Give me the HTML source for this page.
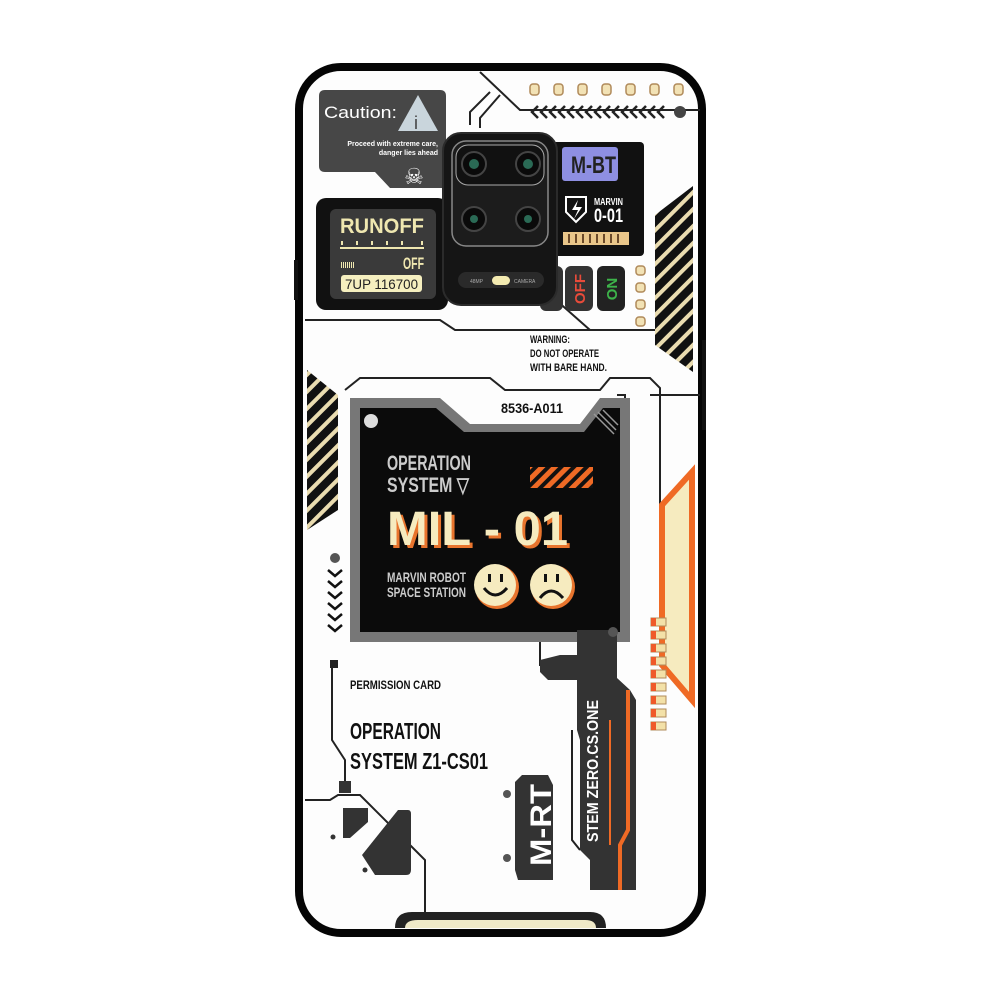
<!DOCTYPE html>
<html><head><meta charset="utf-8"><style>
html,body{margin:0;padding:0;background:#fff;width:1000px;height:1000px;overflow:hidden}
svg{display:block}
.n{font-family:"Liberation Sans",sans-serif;font-weight:bold}
.s{font-family:"Liberation Sans",sans-serif}
</style></head><body>
<svg width="1000" height="1000" viewBox="0 0 1000 1000" xmlns="http://www.w3.org/2000/svg">
<rect width="1000" height="1000" fill="#fff"/>
<rect x="299" y="67" width="403" height="866" rx="42" fill="#fdfdfd" stroke="#050505" stroke-width="8"/>
<rect x="294" y="260" width="4" height="40" fill="#111"/>
<rect x="702" y="340" width="4" height="90" fill="#111"/>

<g fill="none" stroke="#222" stroke-width="2">
<path d="M480 72 L520 110 L700 110"/>
<path d="M490 92 L470 112 L470 125"/>
<path d="M500 95 L480 118 L480 128"/>
<path d="M305 320 L440 320 L455 330 L690 330"/>
<path d="M556 300 L590 330"/>
<path d="M345 390 L360 378 L490 378 L505 390 L600 390 L610 378 L650 378 L660 388 L660 545"/>
<path d="M617 395 L625 395 L625 470 L615 480"/>
<path d="M540 640 L540 665 L575 665"/>
<path d="M332 662 L332 740 L345 760 L345 785"/>
<path d="M305 800 L330 800 L338 795 L360 795 L395 830 L425 860 L425 912"/>
<path d="M572 730 L572 840 L580 850"/>
<path d="M650 395 L700 395"/>
</g>

<g fill="#f2e2b5" stroke="#b08a5a" stroke-width="1.5">
<rect x="530" y="84" width="9" height="11" rx="3"/><rect x="554" y="84" width="9" height="11" rx="3"/>
<rect x="578" y="84" width="9" height="11" rx="3"/><rect x="602" y="84" width="9" height="11" rx="3"/>
<rect x="626" y="84" width="9" height="11" rx="3"/><rect x="650" y="84" width="9" height="11" rx="3"/>
<rect x="674" y="84" width="9" height="11" rx="3"/>
<rect x="636" y="266" width="9" height="9" rx="3"/><rect x="636" y="283" width="9" height="9" rx="3"/>
<rect x="636" y="300" width="9" height="9" rx="3"/><rect x="636" y="317" width="9" height="9" rx="3"/>
</g>
<g fill="none" stroke="#222" stroke-width="2.5">
<path d="M538 106 L532 112 L538 118"/><path d="M547 106 L541 112 L547 118"/><path d="M556 106 L550 112 L556 118"/>
<path d="M565 106 L559 112 L565 118"/><path d="M574 106 L568 112 L574 118"/><path d="M583 106 L577 112 L583 118"/>
<path d="M592 106 L586 112 L592 118"/><path d="M601 106 L595 112 L601 118"/><path d="M610 106 L604 112 L610 118"/>
<path d="M619 106 L613 112 L619 118"/><path d="M628 106 L622 112 L628 118"/><path d="M637 106 L631 112 L637 118"/>
<path d="M646 106 L640 112 L646 118"/><path d="M655 106 L649 112 L655 118"/><path d="M664 106 L658 112 L664 118"/>
</g>
<circle cx="680" cy="112" r="6" fill="#444"/>

<path d="M325 90 L440 90 Q446 90 446 96 L446 188 L390 188 L375 172 L325 172 Q319 172 319 166 L319 96 Q319 90 325 90Z" fill="#474747"/>
<text x="324" y="118" class="s" font-size="17" fill="#fff" textLength="73" lengthAdjust="spacingAndGlyphs">Caution:</text>
<path d="M418 95 L438 131 L398 131Z" fill="#c9d5dc"/>
<text x="414" y="129" class="s" font-size="18" fill="#444">i</text>
<text x="438" y="146" class="s" font-size="7" fill="#fff" text-anchor="end" font-weight="bold">Proceed with extreme care,</text>
<text x="438" y="155" class="s" font-size="7" fill="#fff" text-anchor="end" font-weight="bold">danger lies ahead</text>
<text x="414" y="184" class="s" font-size="22" fill="#fff" text-anchor="middle">☠</text>

<rect x="316" y="198" width="132" height="112" rx="10" fill="#111"/>
<rect x="330" y="209" width="106" height="90" rx="6" fill="#3a3a3a"/>
<text x="340" y="233" class="s" font-size="21" font-weight="bold" fill="#efe7b0" textLength="84" lengthAdjust="spacingAndGlyphs">RUNOFF</text>
<rect x="340" y="247" width="84" height="2" fill="#efe7b0"/>
<g fill="#efe7b0"><rect x="341" y="241" width="2" height="4"/><rect x="356" y="241" width="2" height="4"/><rect x="371" y="241" width="2" height="4"/><rect x="386" y="241" width="2" height="4"/><rect x="401" y="241" width="2" height="4"/><rect x="421" y="241" width="2" height="4"/></g>
<g fill="#efe7b0"><rect x="341" y="262" width="1" height="6"/><rect x="343" y="262" width="1" height="6"/><rect x="345" y="262" width="1" height="6"/><rect x="347" y="262" width="1" height="6"/><rect x="349" y="262" width="1" height="6"/><rect x="351" y="262" width="1" height="6"/><rect x="353" y="262" width="1" height="6"/></g>
<text x="403" y="269" class="n" font-size="17" fill="#efe7b0" textLength="21" lengthAdjust="spacingAndGlyphs">OFF</text>
<rect x="341" y="275" width="81" height="17" rx="3" fill="#f5efbf"/>
<text x="345" y="289" class="s" font-size="14" fill="#222" textLength="73" lengthAdjust="spacingAndGlyphs">7UP 116700</text>

<rect x="552" y="142" width="92" height="114" rx="4" fill="#111"/>
<rect x="562" y="147" width="56" height="34" rx="3" fill="#8e8fe2"/>
<text x="571" y="173" class="n" font-size="24" fill="#222" textLength="45" lengthAdjust="spacingAndGlyphs">M-BT</text>
<path d="M566 197 L586 197 L586 212 L576 222 L566 212Z" fill="none" stroke="#fff" stroke-width="2"/>
<path d="M578 200 L572 210 L578 210 L574 219 L582 207 L576 207Z" fill="#fff"/>
<text x="594" y="205" class="n" font-size="10" fill="#fff" textLength="29" lengthAdjust="spacingAndGlyphs">MARVIN</text>
<text x="594" y="222" class="n" font-size="19" fill="#fff" textLength="29" lengthAdjust="spacingAndGlyphs">0-01</text>
<rect x="563" y="232" width="66" height="13" fill="#e9c68a"/>
<g fill="#6b4a2a"><rect x="568" y="234" width="2" height="9"/><rect x="575" y="234" width="2" height="9"/><rect x="582" y="234" width="2" height="9"/><rect x="589" y="234" width="2" height="9"/><rect x="596" y="234" width="2" height="9"/><rect x="603" y="234" width="2" height="9"/><rect x="610" y="234" width="2" height="9"/><rect x="617" y="234" width="2" height="9"/></g>

<rect x="540" y="266" width="23" height="45" rx="6" fill="#333"/>
<rect x="565" y="266" width="28" height="45" rx="6" fill="#333"/>
<rect x="597" y="266" width="28" height="45" rx="6" fill="#222"/>
<text transform="translate(585,289) rotate(-90)" class="n" font-size="15" fill="#e84b3a" text-anchor="middle">OFF</text>
<text transform="translate(617,289) rotate(-90)" class="n" font-size="15" fill="#3db34a" text-anchor="middle">ON</text>

<rect x="443" y="133" width="114" height="172" rx="18" fill="#151515" stroke="#2b2b2b" stroke-width="2"/>
<rect x="452" y="141" width="96" height="105" rx="14" fill="#1c1c1c" stroke="#888" stroke-width="1.5"/>
<rect x="456" y="145" width="88" height="40" rx="12" fill="#111" stroke="#aaa" stroke-width="1"/>
<g fill="#0a0a0a" stroke="#444" stroke-width="2">
<circle cx="474" cy="164" r="12"/><circle cx="528" cy="164" r="12"/><circle cx="474" cy="219" r="12"/><circle cx="528" cy="219" r="12"/></g>
<g fill="#2a6a55"><circle cx="474" cy="164" r="5"/><circle cx="528" cy="164" r="5"/><circle cx="474" cy="219" r="4"/><circle cx="528" cy="219" r="4"/></g>
<rect x="458" y="272" width="86" height="16" rx="8" fill="#2a2a2a"/>
<rect x="492" y="276" width="18" height="9" rx="4.5" fill="#f3eab0"/>
<text x="470" y="283" class="s" font-size="5" fill="#aaa">48MP</text>
<text x="514" y="283" class="s" font-size="5" fill="#aaa">CAMERA</text>

<text x="530" y="343" class="n" font-size="11" fill="#111" textLength="40" lengthAdjust="spacingAndGlyphs">WARNING:</text>
<text x="530" y="357" class="n" font-size="11" fill="#111" textLength="69" lengthAdjust="spacingAndGlyphs">DO NOT OPERATE</text>
<text x="530" y="371" class="n" font-size="11" fill="#111" textLength="77" lengthAdjust="spacingAndGlyphs">WITH BARE HAND.</text>

<defs>
<pattern id="st" width="12" height="12" patternUnits="userSpaceOnUse" patternTransform="rotate(-45)">
<rect width="12" height="12" fill="#111"/><rect width="12" height="4" fill="#eadcb0"/></pattern>
<pattern id="or" width="9" height="9" patternUnits="userSpaceOnUse" patternTransform="rotate(45)">
<rect width="9" height="9" fill="#111"/><rect width="5" height="9" fill="#ef6a25"/></pattern>
</defs>
<path d="M693 186 L693 372 L655 345 L655 215Z" fill="url(#st)"/>
<path d="M307 370 L338 395 L338 510 L307 530Z" fill="url(#st)"/>

<path d="M350 398 L440 398 L470 424 L580 424 L600 398 L630 398 L630 642 L350 642Z" fill="#777"/>
<path d="M360 408 L436 408 L464 432 L584 432 L603 408 L620 408 L620 632 L360 632Z" fill="#0b0b0b"/>
<text x="501" y="413" class="n" font-size="14" fill="#111" textLength="62" lengthAdjust="spacingAndGlyphs">8536-A011</text>
<circle cx="371" cy="421" r="7" fill="#ddd"/>
<path d="M598 412 L616 430 M603 410 L618 425 M594 414 L614 434" stroke="#999" stroke-width="1.5"/>
<text x="387" y="470" class="n" font-size="21" fill="#ccc" textLength="84" lengthAdjust="spacingAndGlyphs">OPERATION</text>
<text x="387" y="492" class="n" font-size="21" fill="#ccc" textLength="82" lengthAdjust="spacingAndGlyphs">SYSTEM ▽</text>
<rect x="530" y="467" width="63" height="21" fill="url(#or)"/>
<text x="390" y="548" class="s" font-size="48" font-weight="900" fill="#e8742d" textLength="181" lengthAdjust="spacingAndGlyphs">MIL - 01</text>
<text x="387" y="545" class="s" font-size="48" font-weight="900" fill="#f6ebbf" textLength="181" lengthAdjust="spacingAndGlyphs">MIL - 01</text>
<text x="387" y="582" class="n" font-size="14" fill="#ccc" textLength="79" lengthAdjust="spacingAndGlyphs">MARVIN ROBOT</text>
<text x="387" y="597" class="n" font-size="14" fill="#ccc" textLength="79" lengthAdjust="spacingAndGlyphs">SPACE STATION</text>
<circle cx="497" cy="587" r="22" fill="#e8742d"/><circle cx="495" cy="585" r="21" fill="#f6ebbf"/>
<circle cx="553" cy="587" r="22" fill="#e8742d"/><circle cx="551" cy="585" r="21" fill="#f6ebbf"/>
<g fill="#111"><rect x="488" y="574" width="3" height="8"/><rect x="500" y="574" width="3" height="8"/><rect x="544" y="574" width="3" height="8"/><rect x="556" y="574" width="3" height="8"/></g>
<path d="M484 588 Q495 602 507 588" stroke="#111" stroke-width="3" fill="none"/>
<path d="M540 598 Q551 584 563 598" stroke="#111" stroke-width="3" fill="none"/>

<circle cx="335" cy="558" r="5" fill="#555"/>
<g fill="none" stroke="#111" stroke-width="2.5">
<path d="M328 570 L335 576 L342 570"/><path d="M328 581 L335 587 L342 581"/><path d="M328 592 L335 598 L342 592"/>
<path d="M328 603 L335 609 L342 603"/><path d="M328 614 L335 620 L342 614"/><path d="M328 625 L335 631 L342 625"/></g>

<path d="M692 472 L692 700 L662 665 L662 505Z" fill="#f6ebbf" stroke="#ef6a25" stroke-width="6"/>
<g>
<rect x="651" y="618" width="15" height="8" fill="#f3e1a8" stroke="#b08a5a"/><rect x="651" y="618" width="5" height="8" fill="#ef5a2a"/>
<rect x="651" y="631" width="15" height="8" fill="#f3e1a8" stroke="#b08a5a"/><rect x="651" y="631" width="5" height="8" fill="#ef5a2a"/>
<rect x="651" y="644" width="15" height="8" fill="#f3e1a8" stroke="#b08a5a"/><rect x="651" y="644" width="5" height="8" fill="#ef5a2a"/>
<rect x="651" y="657" width="15" height="8" fill="#f3e1a8" stroke="#b08a5a"/><rect x="651" y="657" width="5" height="8" fill="#ef5a2a"/>
<rect x="651" y="670" width="15" height="8" fill="#f3e1a8" stroke="#b08a5a"/><rect x="651" y="670" width="5" height="8" fill="#ef5a2a"/>
<rect x="651" y="683" width="15" height="8" fill="#f3e1a8" stroke="#b08a5a"/><rect x="651" y="683" width="5" height="8" fill="#ef5a2a"/>
<rect x="651" y="696" width="15" height="8" fill="#f3e1a8" stroke="#b08a5a"/><rect x="651" y="696" width="5" height="8" fill="#ef5a2a"/>
<rect x="651" y="709" width="15" height="8" fill="#f3e1a8" stroke="#b08a5a"/><rect x="651" y="709" width="5" height="8" fill="#ef5a2a"/>
<rect x="651" y="722" width="15" height="8" fill="#f3e1a8" stroke="#b08a5a"/><rect x="651" y="722" width="5" height="8" fill="#ef5a2a"/>
</g>

<path d="M577 630 L617 630 L617 678 L630 690 L636 700 L636 890 L590 890 L590 860 L580 850 L580 740 L577 730Z" fill="#333"/>
<path d="M628 690 L628 830 L620 845 L620 890" stroke="#ef6a25" stroke-width="4" fill="none"/>
<line x1="610" y1="720" x2="610" y2="845" stroke="#ef6a25" stroke-width="2"/>
<circle cx="613" cy="632" r="5" fill="#555"/>
<text transform="translate(598,842) rotate(-90)" class="n" font-size="16" fill="#fff" textLength="142" lengthAdjust="spacingAndGlyphs">STEM ZERO.CS.ONE</text>
<path d="M560 655 L578 655 L578 680 L548 680 L540 672 L540 660Z" fill="#333"/>

<path d="M522 775 L548 775 L553 785 L553 880 L518 880 L515 870 L515 782Z" fill="#333"/>
<text transform="translate(551,866) rotate(-90)" class="n" font-size="30" fill="#fff" textLength="82" lengthAdjust="spacingAndGlyphs">M-RT</text>
<circle cx="507" cy="794" r="4" fill="#555"/><circle cx="507" cy="858" r="4" fill="#555"/>

<rect x="330" y="660" width="8" height="8" fill="#222"/>
<text x="350" y="689" class="n" font-size="12" fill="#111" textLength="91" lengthAdjust="spacingAndGlyphs">PERMISSION CARD</text>
<text x="350" y="739" class="n" font-size="23" fill="#111" textLength="91" lengthAdjust="spacingAndGlyphs">OPERATION</text>
<text x="350" y="769" class="n" font-size="23" fill="#111" textLength="138" lengthAdjust="spacingAndGlyphs">SYSTEM Z1-CS01</text>
<rect x="339" y="781" width="12" height="12" fill="#333"/>

<path d="M343 808 L368 808 L368 822 L350 838 L343 838Z" fill="#333"/>
<path d="M398 810 L408 810 Q411 810 411 814 L411 870 Q411 875 406 875 L375 875 L362 855 Z" fill="#333"/>
<circle cx="333" cy="837" r="2.5" fill="#333"/><circle cx="365" cy="870" r="2.5" fill="#333"/>

<path d="M395 928 Q395 912 412 912 L590 912 Q606 912 606 928Z" fill="#222"/>
<path d="M405 928 Q405 920 418 920 L585 920 Q596 920 596 928Z" fill="#efe9c8"/>
</svg>
</body></html>
